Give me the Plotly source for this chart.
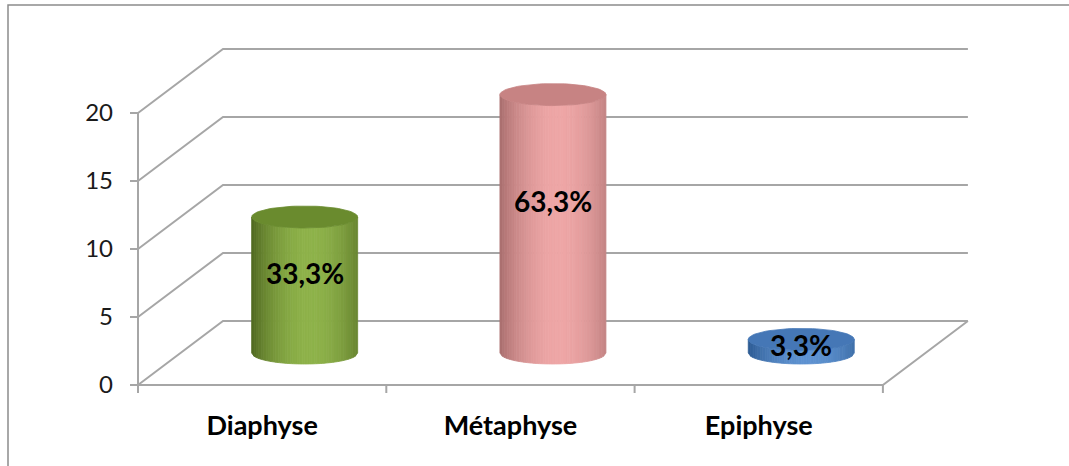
import plotly.graph_objects as go
import numpy as np

# ---- data ----
categories = ["Diaphyse", "Métaphyse", "Epiphyse"]
counts = [10, 19, 1]
pct_labels = ["33,3%", "63,3%", "3,3%"]
y_ticks = [0, 5, 10, 15, 20]

# ---- styles ----
body_edge = [(0x4e, 0x66, 0x1f), (0xa6, 0x6c, 0x6c), (0x2a, 0x58, 0x90)]
body_center = [(0x8e, 0xb2, 0x4a), (0xee, 0xa6, 0xa6), (0x5e, 0x92, 0xd0)]
top_color = ["#6a8b2e", "#c78383", "#4577b6"]
grid_color = "#a6a6a6"

W, H = 1069, 466
PX_X, PX_Y = 248.3, 13.6          # pixels per unit
X0, Y0 = 138, 385                 # pixel position of (x=-0.5, y=0)
L, R, T, B = 126, 972, 46, 393    # plot area in pixels
xr = [-0.5 - (X0 - L) / PX_X, -0.5 + (R - X0) / PX_X]
yr = [-(B - Y0) / PX_Y, (Y0 - T) / PX_Y]
DX, DY = 85 / PX_X, 64 / PX_Y     # depth offset
EA, EB = 53 / PX_X, 11 / PX_Y     # cylinder ellipse half axes

fig = go.Figure()

# gridlines (walls)
gx, gy = [], []
for v in y_ticks:
    gx += [-0.5, -0.5 + DX, 2.5 + DX, None]
    gy += [v, v + DY, v + DY, None]
# floor front & right edges, front vertical axis
gx += [-0.5, 2.5, 2.5 + DX, None, -0.5, -0.5, None]
gy += [0, 0, DY, None, 0, y_ticks[-1], None]
# tick marks
tlx = 8 / PX_X
tly = 8 / PX_Y
for v in y_ticks:
    gx += [-0.5 - tlx, -0.5, None]
    gy += [v, v, None]
for k in range(len(categories) + 1):
    gx += [k - 0.5, k - 0.5, None]
    gy += [0, -tly, None]
fig.add_trace(go.Scatter(x=gx, y=gy, mode="lines", line=dict(color=grid_color, width=2),
                         hoverinfo="skip", showlegend=False))


def mix(c1, c2, t):
    return "rgb(%d,%d,%d)" % tuple(int(round(a + (b - a) * t)) for a, b in zip(c1, c2))


# cylinders
N = 44
for i, v in enumerate(counts):
    cx = i + DX / 2
    yb = DY / 2
    yt = v + DY / 2
    us = np.linspace(-1, 1, N + 1)
    for j in range(N):
        u0, u1 = us[j], us[j + 1]
        um = (u0 + u1) / 2
        d = abs(um - 0.12) / 1.12
        t = np.cos(np.pi / 2 * min(d, 1)) ** 0.8
        col = mix(body_edge[i], body_center[i], t)
        xs = [cx + EA * u0, cx + EA * u1, cx + EA * u1, cx + EA * u0, cx + EA * u0]
        s0, s1 = np.sqrt(max(0, 1 - u0 ** 2)), np.sqrt(max(0, 1 - u1 ** 2))
        ys = [yb - EB * s0, yb - EB * s1, yt - EB * s1, yt - EB * s0, yb - EB * s0]
        fig.add_trace(go.Scatter(x=xs, y=ys, mode="lines", fill="toself", fillcolor=col,
                                 line=dict(color=col, width=0.8), hoverinfo="skip",
                                 showlegend=False))
    th = np.linspace(0, 2 * np.pi, 80)
    fig.add_trace(go.Scatter(x=cx + EA * np.cos(th), y=yt + EB * np.sin(th), mode="lines",
                             fill="toself", fillcolor=top_color[i],
                             line=dict(color=top_color[i], width=0.8), hoverinfo="skip",
                             showlegend=False))
    fig.add_annotation(x=cx, y=0.59 * v + DY / 2, text="<b>%s</b>" % pct_labels[i],
                       showarrow=False, font=dict(family="Lato", size=28, color="#000000"))

# outer border (decoration)
pw, ph = R - L, B - T
def px(xp):
    return (xp - L) / pw
def py(yp):
    return (B - yp) / ph
fig.add_shape(type="rect", xref="paper", yref="paper", x0=px(8), x1=px(1080), y0=py(480), y1=py(5),
              line=dict(color="#8c8c8c", width=1.5), fillcolor="rgba(0,0,0,0)", layer="below")

fig.update_layout(
    width=W, height=H, autosize=False,
    margin=dict(l=L, r=W - R, t=T, b=H - B, pad=0),
    paper_bgcolor="white", plot_bgcolor="white",
    xaxis=dict(range=xr, tickvals=list(range(len(categories))),
               ticktext=["<b>%s</b>" % c for c in categories], ticks="", showgrid=False,
               zeroline=False, showline=False, ticklabelstandoff=14,
               tickfont=dict(family="Lato", size=27, color="#000000")),
    yaxis=dict(range=yr, tickvals=y_ticks, ticks="", showgrid=False, zeroline=False,
               showline=False, ticklabelstandoff=12,
               tickfont=dict(family="Lato", size=24, color="#1a1a1a")),
)

fig.write_html("out.html")
